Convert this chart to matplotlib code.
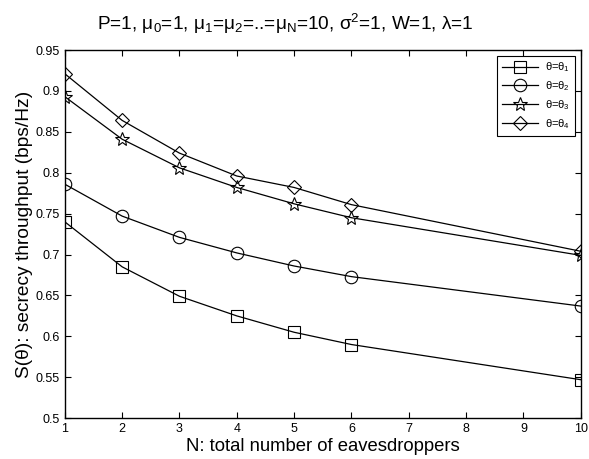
import matplotlib
matplotlib.use('Agg')
import matplotlib.pyplot as plt

plt.rcParams['font.family'] = ['Liberation Sans', 'DejaVu Sans']
plt.rcParams['mathtext.fontset'] = 'custom'
plt.rcParams['mathtext.rm'] = 'Liberation Sans'
plt.rcParams['mathtext.it'] = 'Liberation Sans'
plt.rcParams['mathtext.default'] = 'rm'

# eavesdropper counts and secrecy throughput per theta
N = [1, 2, 3, 4, 5, 6, 10]
theta1 = [0.740, 0.685, 0.649, 0.625, 0.605, 0.590, 0.547]
theta2 = [0.786, 0.747, 0.721, 0.702, 0.686, 0.673, 0.637]
theta3 = [0.893, 0.841, 0.806, 0.782, 0.762, 0.745, 0.699]
theta4 = [0.921, 0.864, 0.824, 0.796, 0.782, 0.761, 0.704]
labels = [r'θ=θ$_1$', r'θ=θ$_2$', r'θ=θ$_3$', r'θ=θ$_4$']

fig = plt.figure(figsize=(5.89, 4.59), dpi=100)
ax = fig.add_axes([0.110, 0.089, 0.876, 0.802])

styles = [('s', 8), ('o', 9), ('*', 10), ('D', 7.5)]
for ys, lab, (m, ms) in zip([theta1, theta2, theta3, theta4], labels, styles):
    ax.plot(N, ys, color='black', linewidth=0.9, marker=m, markersize=ms,
            markerfacecolor='none', markeredgecolor='black',
            markeredgewidth=0.8, label=lab)

ax.set_xlim(1, 10)
ax.set_ylim(0.5, 0.95)
ax.set_xticks(range(1, 11))
ax.set_yticks([0.5, 0.55, 0.6, 0.65, 0.7, 0.75, 0.8, 0.85, 0.9, 0.95])
ax.set_yticklabels(['0.5', '0.55', '0.6', '0.65', '0.7', '0.75', '0.8',
                    '0.85', '0.9', '0.95'])
ax.tick_params(direction='in', top=True, right=True, labelsize=9, length=4)
for sp in ax.spines.values():
    sp.set_linewidth(1.0)

ax.set_xlabel('N: total number of eavesdroppers', fontsize=13.3, labelpad=2)
ax.set_ylabel('S(θ): secrecy throughput (bps/Hz)', fontsize=13.8, labelpad=2)
fig.text(0.484, 0.935,
         r'P=1, μ$_0$=1, μ$_1$=μ$_2$=..=μ$_N$=10, σ$^2$=1, W=1, λ=1',
         fontsize=13.7, ha='center', va='baseline')

leg = ax.legend(loc='upper right', fontsize=8, fancybox=False,
                edgecolor='black', framealpha=1, borderaxespad=0.5,
                handlelength=3.3, labelspacing=0.45, borderpad=0.45,
                handletextpad=0.6)
leg.get_frame().set_linewidth(0.8)

fig.savefig('out.png', dpi=100)
